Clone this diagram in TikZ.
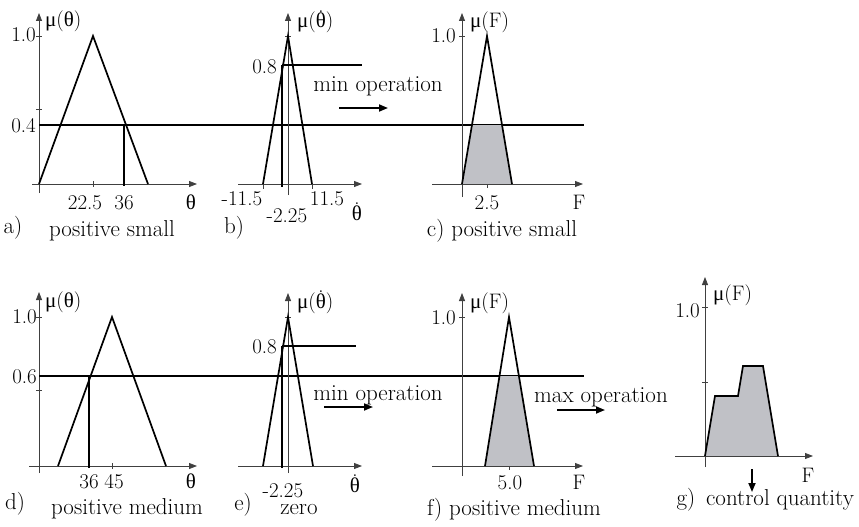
\documentclass[tikz,border=0pt]{standalone}
\usepackage{fontspec}
\newfontfamily\grk{Liberation Serif}
\usetikzlibrary{arrows.meta}
\newcommand\thd{\ooalign{{\grk θ}\cr\hidewidth\raisebox{0.74em}{.}\hidewidth\cr}}
\newcommand\mut{{\grk μ}({\grk θ})}
\newcommand\mutd{{\grk μ}(\thd)}
\newcommand\muf{{\grk μ}(F)}
\tikzset{
  axis/.style={draw=black!75, line width=0.8pt, -{Triangle[length=8pt,width=6pt]}},
  tk/.style={draw=black!75, line width=0.8pt},
  curve/.style={draw=black, line width=1.7pt, line join=miter},
  lvl/.style={draw=black, line width=1.7pt},
  shade/.style={fill={rgb,255:red,192;green,193;blue,198}},
  lab/.style={inner sep=0pt, anchor=base, font=\fontsize{21}{24}\selectfont},
  txt/.style={inner sep=0pt, anchor=base, font=\fontsize{23}{26}\selectfont},
  arr/.style={draw=black, line width=1.7pt, -{Triangle[length=9pt,width=7pt]}}
}
\begin{document}
\begin{tikzpicture}[x=1pt,y=-1pt]
\useasboundingbox (0,0) rectangle (859,527);
% ---------- panel a ----------
\draw[axis] (39,193) -- (39,13);
\draw[axis] (32,184) -- (197,184);
\draw[tk] (36,36) -- (42,36);
\draw[tk] (36,109) -- (42,109);
\draw[tk] (93,181) -- (93,187);
\draw[curve] (39,184) -- (93,36) -- (148,184);
\draw[lvl] (124,125) -- (124,186);
\draw[lvl] (39,125) -- (584,125);
\node[lab, anchor=base west] (amu) at (45,27) {\mut};
\node[lab, anchor=base east] (a10) at (36,42) {1.0};
\node[lab, anchor=base east] (a04) at (36,132) {0.4};
\node[lab] (a225) at (85,209) {22.5};
\node[lab] (a36) at (124,209) {36};
\node[lab] (ath) at (191,209) {{\grk θ}};
\node[txt] (atag) at (13,233) {a)};
\node[txt] (aname) at (112,236) {positive small};
% ---------- panel b ----------
\draw[axis] (288,195) -- (288,13);
\draw[axis] (238,184) -- (362,184);
\draw[tk] (285,36) -- (291,36);
\draw[tk] (263,184) -- (263,189);
\draw[tk] (312,184) -- (312,189);
\draw[curve] (263,184) -- (288,36) -- (312,184);
\draw[lvl] (282,65) -- (282,187);
\draw[lvl] (282,65) -- (362,65);
\node[lab, anchor=base west] (bmu) at (297,28) {\mutd};
\node[lab, anchor=base east] (b08) at (277,74) {0.8};
\node[lab] (bm115) at (242,205) {-11.5};
\node[lab] (bm225) at (287,222) {-2.25};
\node[lab] (b115) at (327,205) {11.5};
\node[lab] (bth) at (357,220) {\thd};
\node[txt] (btag) at (234,233) {b)};
\node[txt] (minop1) at (378,92) {min operation};
\coordinate (m1s) at (339,108);
\coordinate (m1e) at (388,108);
\draw[arr] (m1s) -- (m1e);
% ---------- panel c ----------
\fill[shade] (462,184) -- (472,125) -- (502,125) -- (512,184) -- cycle;
\draw[axis] (462,197) -- (462,13);
\draw[axis] (432,184) -- (583,184);
\draw[tk] (459,36) -- (465,36);
\draw[tk] (487,184) -- (487,188);
\draw[curve] (462,184) -- (487,36) -- (512,184);
\node[lab, anchor=base west] (cmu) at (470,28) {\muf};
\node[lab, anchor=base east] (c10) at (456,43) {1.0};
\node[lab] (c25) at (487,209) {2.5};
\node[lab] (cF) at (579,209) {F};
\node[txt] (cname) at (502,236) {c) positive small};
% ---------- panel d ----------
\draw[axis] (39,473) -- (39,292);
\draw[axis] (29,466) -- (197,466);
\draw[tk] (36,317) -- (42,317);
\draw[tk] (36,390) -- (42,390);
\draw[tk] (112,463) -- (112,469);
\draw[curve] (58,466) -- (112,317) -- (166,466);
\draw[lvl] (89,376) -- (89,468);
\draw[lvl] (39,376) -- (584,376);
\node[lab, anchor=base west] (dmu) at (45,307) {\mut};
\node[lab, anchor=base east] (d10) at (37,323) {1.0};
\node[lab, anchor=base east] (d06) at (37,383) {0.6};
\node[lab] (d36) at (89,488) {36};
\node[lab] (d45) at (114,488) {45};
\node[lab] (dth) at (191,488) {{\grk θ}};
\node[txt] (dtag) at (15,509) {d)};
\node[txt] (dname) at (127,514) {positive medium};
% ---------- panel e ----------
\draw[axis] (288,473) -- (288,293);
\draw[axis] (238,466) -- (362,466);
\draw[tk] (285,317) -- (291,317);
\draw[curve] (263,466) -- (288,317) -- (313,466);
\draw[lvl] (282,346) -- (282,468);
\draw[lvl] (282,346) -- (356,346);
\node[lab, anchor=base west] (emu) at (297,308) {\mutd};
\node[lab, anchor=base east] (e08) at (277,353) {0.8};
\node[lab] (em225) at (283,497) {-2.25};
\node[lab] (eth) at (355,492) {\thd};
\node[txt] (etag) at (243,510) {e)};
\node[txt] (ename) at (299,514) {zero};
\node[txt] (minop2) at (378,400) {min operation};
\coordinate (m2s) at (324,407);
\coordinate (m2e) at (373,407);
\draw[arr] (m2s) -- (m2e);
% ---------- panel f ----------
\fill[shade] (485,466) -- (499.5,376) -- (519,376) -- (534,466) -- cycle;
\draw[axis] (462,476) -- (462,293);
\draw[axis] (432,466) -- (583,466);
\draw[tk] (459,317) -- (465,317);
\draw[tk] (509,466) -- (509,470);
\draw[curve] (485,466) -- (509,317) -- (534,466);
\node[lab, anchor=base west] (fmu) at (470,308) {\muf};
\node[lab, anchor=base east] (f10) at (456,324) {1.0};
\node[lab] (f50) at (510,489) {5.0};
\node[lab] (fF) at (579,489) {F};
\node[txt] (fname) at (514,515) {f) positive medium};
\node[txt] (maxop) at (601,402) {max operation};
\coordinate (x1s) at (557,410);
\coordinate (x1e) at (605,410);
\draw[arr] (x1s) -- (x1e);
% ---------- panel g ----------
\fill[shade] (705,456) -- (715,396) -- (738,396) -- (743,366) -- (763,366) -- (778,456) -- cycle;
\draw[axis] (705,467) -- (705,277);
\draw[axis] (675,456) -- (813,456);
\draw[tk] (702,307) -- (708,307);
\draw[tk] (702,382) -- (708,382);
\draw[curve] (705,456) -- (715,396) -- (738,396) -- (743,366) -- (763,366) -- (778,456);
\node[lab, anchor=base west] (gmu) at (713,300) {\muf};
\node[lab, anchor=base east] (g10) at (700,317) {1.0};
\node[lab] (gF) at (808,482) {F};
\node[txt] (gtag) at (686,505) {g)};
\node[txt] (gname) at (780,505) {control quantity};
\coordinate (gas) at (752,469);
\coordinate (gae) at (752,492);
\draw[arr] (gas) -- (gae);
\end{tikzpicture}
\end{document}
